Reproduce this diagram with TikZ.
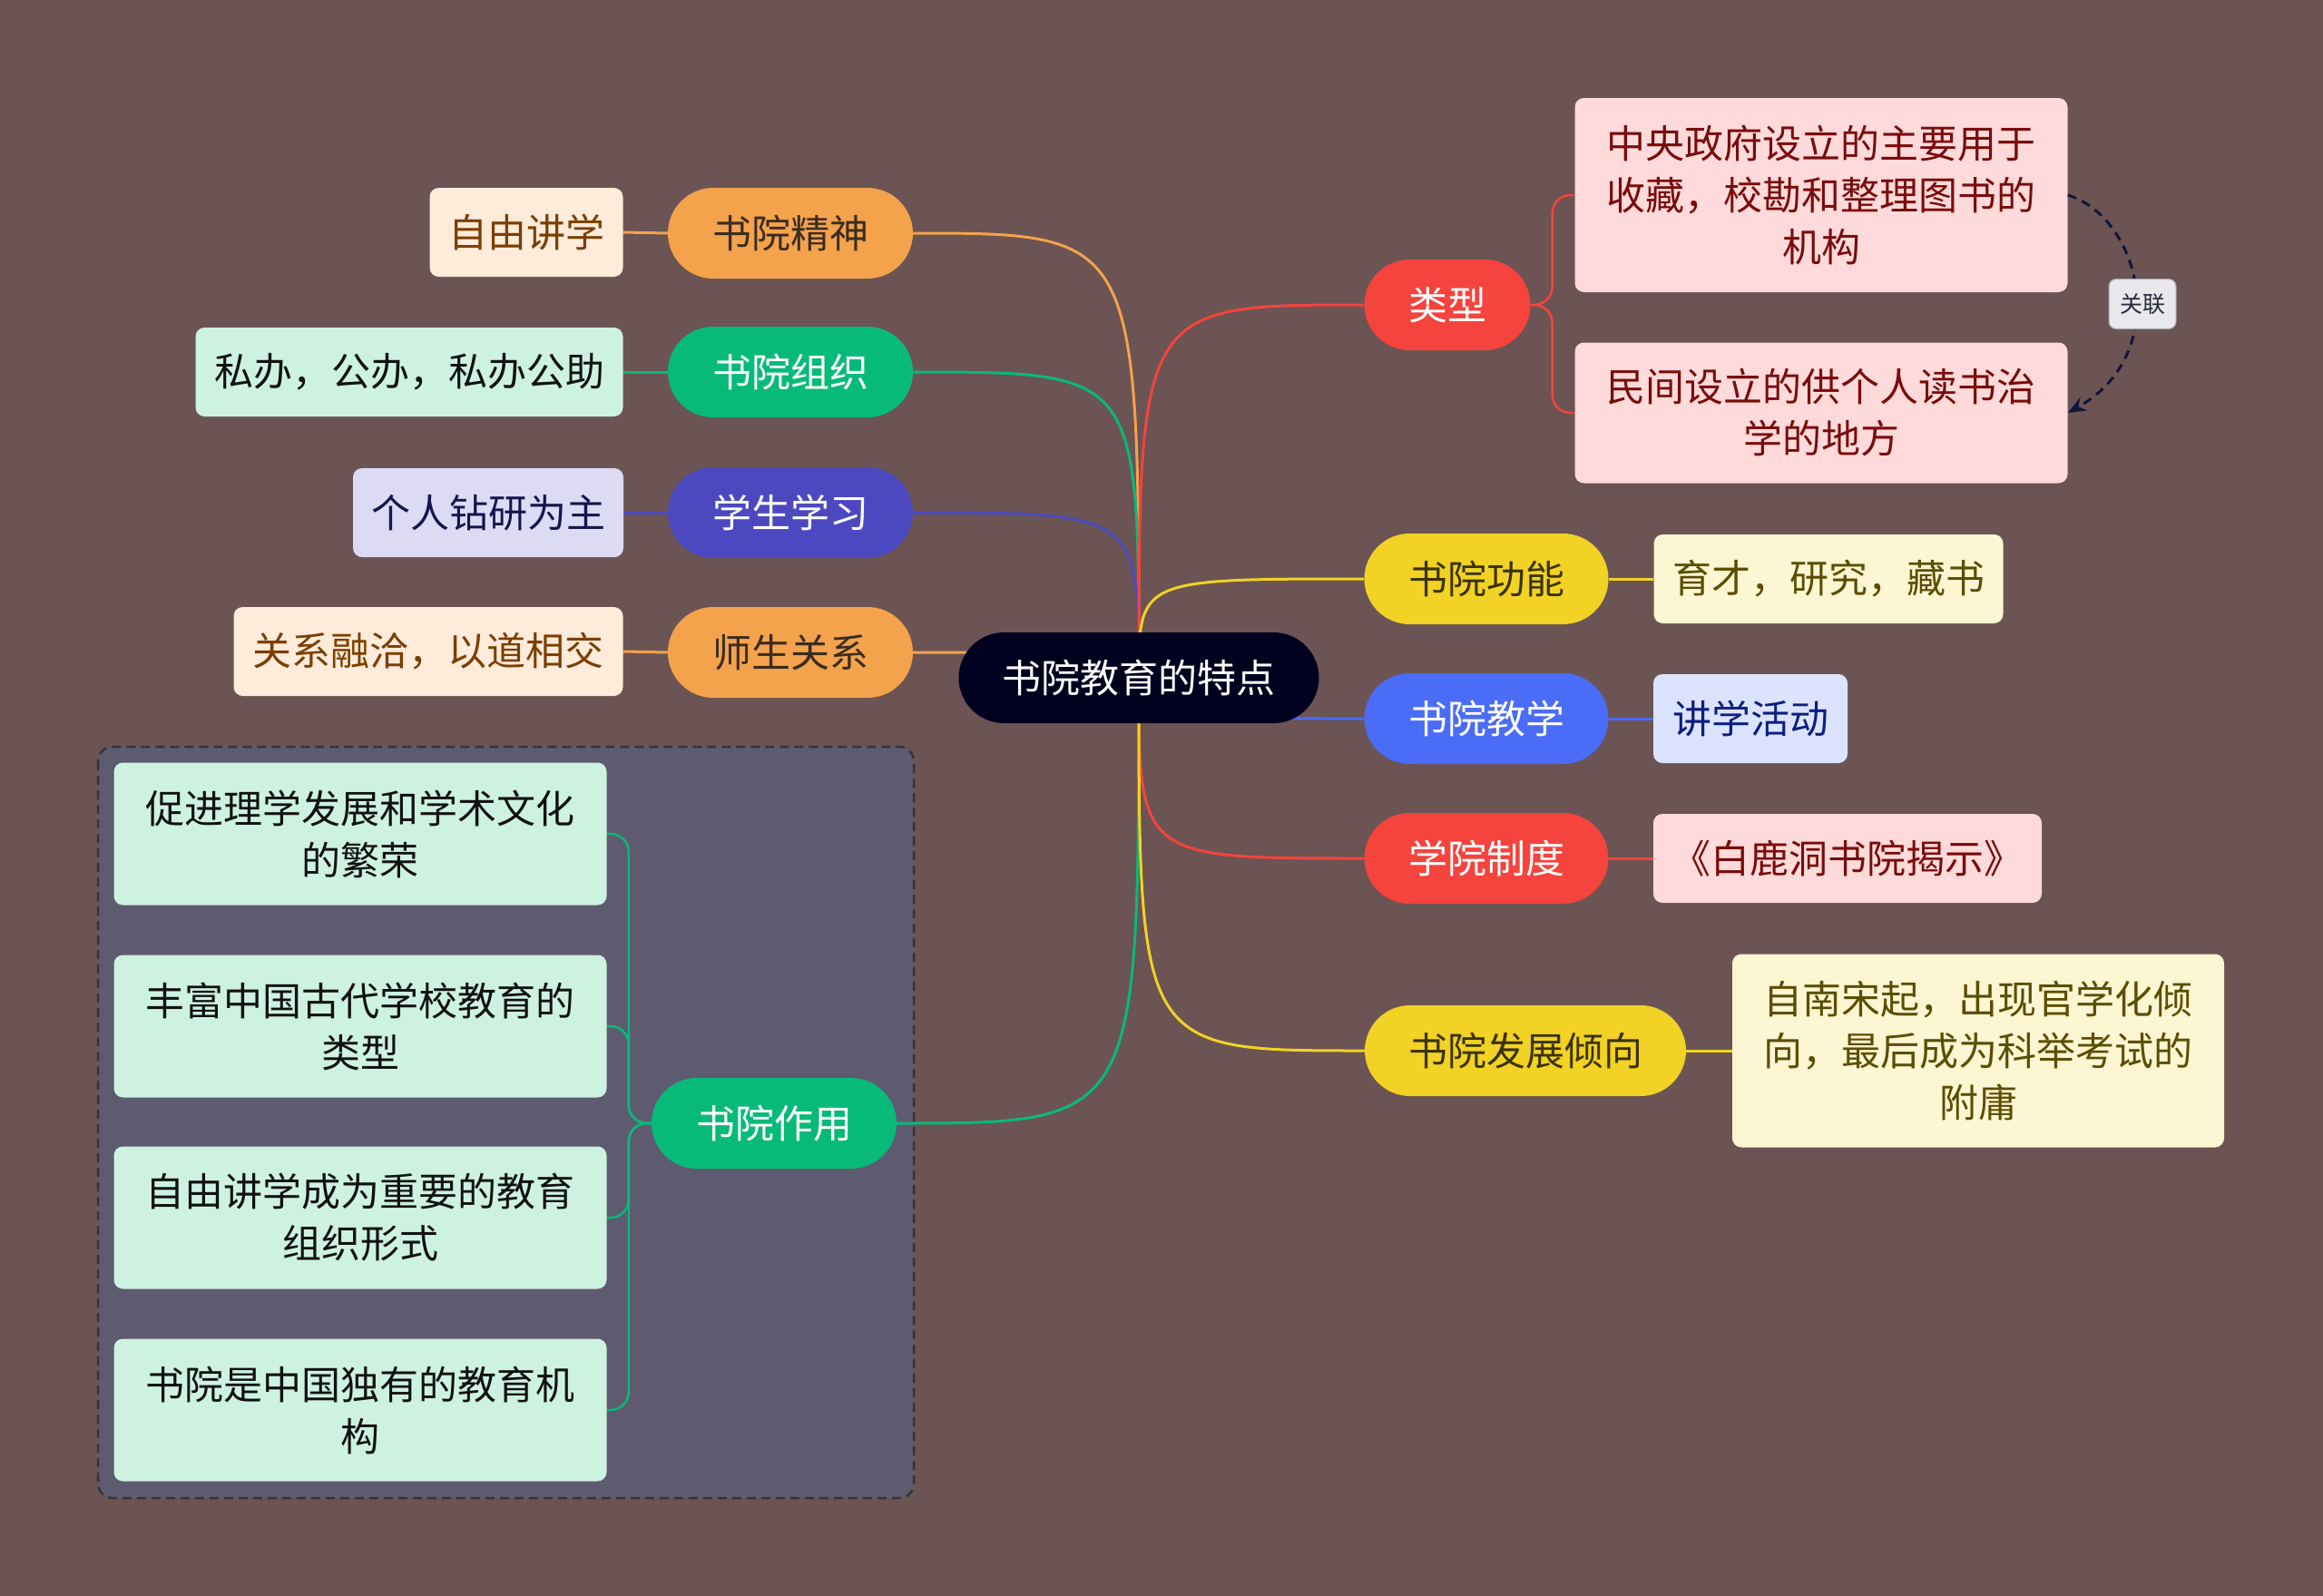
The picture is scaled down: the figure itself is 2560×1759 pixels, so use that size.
\documentclass[tikz,border=0pt]{standalone}
\usepackage{fontspec}
\newfontfamily\cjk{Noto Sans CJK SC}
\usetikzlibrary{arrows.meta,calc}
\pgfdeclarelayer{back}
\pgfdeclarelayer{lines}
\pgfsetlayers{back,lines,main}
\definecolor{bgc}{HTML}{6B5453}
\definecolor{grpfill}{HTML}{5E5A70}
\definecolor{grpline}{HTML}{363438}
\definecolor{cnavy}{HTML}{00001F}
\definecolor{corange}{HTML}{F4A24C}
\definecolor{cgreen}{HTML}{08BA7A}
\definecolor{cpurple}{HTML}{4C49C0}
\definecolor{cred}{HTML}{F5433D}
\definecolor{cyellow}{HTML}{F1D225}
\definecolor{cblue}{HTML}{4A6CF6}
\definecolor{tdark}{HTML}{3A2C20}
\definecolor{tolive}{HTML}{3A3300}
\definecolor{fpeach}{HTML}{FEEBDA}
\definecolor{tpeach}{HTML}{7B3F00}
\definecolor{fmint}{HTML}{CDF2E2}
\definecolor{tmint}{HTML}{111111}
\definecolor{flav}{HTML}{DCDBF3}
\definecolor{tlav}{HTML}{15154F}
\definecolor{fcream}{HTML}{FDF6D3}
\definecolor{tcream}{HTML}{5C4D00}
\definecolor{flblue}{HTML}{DCE3FE}
\definecolor{tlblue}{HTML}{0B1F80}
\definecolor{fpink}{HTML}{FFDADA}
\definecolor{tpink}{HTML}{7A0B0B}
\definecolor{relfill}{HTML}{E8E8ED}
\definecolor{reltext}{HTML}{2A2A40}
\definecolor{arrowc}{HTML}{14143A}
\begin{document}
\begin{tikzpicture}[x=1pt,y=-1pt,
  base/.style={font=\cjk\fontsize{43}{57}\selectfont, inner sep=0pt, align=center},
  mainn/.style={base, rounded corners=50pt, minimum height=100pt},
  leafn/.style={base, rounded corners=10pt, minimum height=98pt},
  boxn/.style={base, rounded corners=10pt},
  link/.style={line width=3pt},
  brk/.style={line width=2.5pt, rounded corners=20pt},
  relarrow/.style={line width=3pt, dash pattern=on 10pt off 7pt, draw=arrowc, -{Stealth[length=20pt,width=16pt]}},
  relnode/.style={font=\cjk\fontsize{25}{30}\selectfont, fill=relfill, draw=black!35, line width=1pt, rounded corners=8pt, minimum width=74pt, minimum height=55pt, inner sep=0pt, text=reltext}
]
\useasboundingbox (0,0) rectangle (2560,1759);
\begin{pgfonlayer}{back}
  \fill[bgc] (0,0) rectangle (2560,1759);
  \draw[grpline, fill=grpfill, dash pattern=on 10pt off 6pt, line width=2.5pt, rounded corners=16pt] (108,823) rectangle (1007,1651);
\end{pgfonlayer}

% center
\node[mainn, fill=cnavy, text=white, minimum width=397pt] (ctr) at (1255,747) {书院教育的特点};

% left main topics
\node[mainn, fill=corange, text=tdark, minimum width=270pt] (jj) at (871,257) {书院精神};
\node[mainn, fill=cgreen, text=white, minimum width=270pt] (zz) at (871,410) {书院组织};
\node[mainn, fill=cpurple, text=white, minimum width=270pt] (xs) at (871,565) {学生学习};
\node[mainn, fill=corange, text=tdark, minimum width=270pt] (ss) at (871,719) {师生关系};
\node[mainn, fill=cgreen, text=white, minimum width=270pt] (zy) at (853,1238) {书院作用};

% left leaves
\node[leafn, fill=fpeach, text=tpeach, minimum width=213pt] (l1) at (580,256) {自由讲学};
\node[leafn, fill=fmint, text=tmint, minimum width=471pt] (l2) at (451,410) {私办，公办，私办公助};
\node[leafn, fill=flav, text=tlav, minimum width=298pt] (l3) at (538,565) {个人钻研为主};
\node[leafn, fill=fpeach, text=tpeach, minimum width=429pt] (l4) at (472,718) {关系融洽，以道相交};

% group boxes
\node[boxn, fill=fmint, text=tmint, minimum width=543pt, minimum height=157pt] (b1) at (397,919) {促进理学发展和学术文化\\的繁荣};
\node[boxn, fill=fmint, text=tmint, minimum width=543pt, minimum height=157pt] (b2) at (397,1131) {丰富中国古代学校教育的\\类型};
\node[boxn, fill=fmint, text=tmint, minimum width=543pt, minimum height=157pt] (b3) at (397,1342) {自由讲学成为重要的教育\\组织形式};
\node[boxn, fill=fmint, text=tmint, minimum width=543pt, minimum height=157pt] (b4) at (397,1554) {书院是中国独有的教育机\\构};

% right main topics
\node[mainn, fill=cred, text=white, minimum width=183pt] (lx) at (1595,336) {类型};
\node[mainn, fill=cyellow, text=tolive, minimum width=269pt] (gn) at (1638,638) {书院功能};
\node[mainn, fill=cblue, text=white, minimum width=269pt] (jx) at (1638,792) {书院教学};
\node[mainn, fill=cred, text=white, minimum width=269pt] (zd) at (1638,946) {学院制度};
\node[mainn, fill=cyellow, text=tolive, minimum width=354pt] (fz) at (1681,1158) {书院发展倾向};

% right leaves
\node[boxn, fill=fpink, text=tpink, minimum width=543pt, minimum height=214pt] (t1) at (2007,215) {中央政府设立的主要用于\\收藏，校勘和整理图书的\\机构};
\node[boxn, fill=fpink, text=tpink, minimum width=543pt, minimum height=155pt] (t2) at (2007,455) {民间设立的供个人读书治\\学的地方};
\node[leafn, fill=fcream, text=tcream, minimum width=385pt] (gnl) at (2015,638) {育才，研究，藏书};
\node[leafn, fill=flblue, text=tlblue, minimum width=214pt] (jxl) at (1929,792) {讲学活动};
\node[leafn, fill=fpink, text=tpink, minimum width=428pt] (zdl) at (2036,946) {《白鹿洞书院揭示》};
\node[boxn, fill=fcream, text=tcream, minimum width=542pt, minimum height=213pt] (fzl) at (2180,1158) {自南宋起，出现官学化倾\\向，最后成为科举考试的\\附庸};

\begin{pgfonlayer}{lines}
  % center to main topics
  \draw[link, corange] (ctr.center) .. controls (ctr.center |- jj.east) .. (jj.east);
  \draw[link, cgreen] (ctr.center) .. controls (ctr.center |- zz.east) .. (zz.east);
  \draw[link, cpurple] (ctr.center) .. controls (ctr.center |- xs.east) .. (xs.east);
  \draw[link, corange] (ctr.center) .. controls (ctr.center |- ss.east) .. (ss.east);
  \draw[link, cgreen] (ctr.center) .. controls (ctr.center |- zy.east) .. (zy.east);
  \draw[link, cred] (ctr.center) .. controls (ctr.center |- lx.west) .. (lx.west);
  \draw[link, cyellow] (ctr.center) .. controls (ctr.center |- gn.west) .. (gn.west);
  \draw[link, cblue] (ctr.center) .. controls (ctr.center |- jx.west) .. (jx.west);
  \draw[link, cred] (ctr.center) .. controls (ctr.center |- zd.west) .. (zd.west);
  \draw[link, cyellow] (ctr.center) .. controls (ctr.center |- fz.west) .. (fz.west);
  % main to leaves
  \draw[link, corange] (jj.west) -- (l1.east);
  \draw[link, cgreen] (zz.west) -- (l2.east);
  \draw[link, cpurple] (xs.west) -- (l3.east);
  \draw[link, corange] (ss.west) -- (l4.east);
  \draw[link, cyellow] (gn.east) -- (gnl.west);
  \draw[link, cblue] (jx.east) -- (jxl.west);
  \draw[link, cred] (zd.east) -- (zdl.west);
  \draw[link, cyellow] (fz.east) -- (fzl.west);
  % brackets
  \draw[brk, cgreen] (zy.west) -- ++(-25,0) |- (b1.east);
  \draw[brk, cgreen] (zy.west) -- ++(-25,0) |- (b2.east);
  \draw[brk, cgreen] (zy.west) -- ++(-25,0) |- (b3.east);
  \draw[brk, cgreen] (zy.west) -- ++(-25,0) |- (b4.east);
  \draw[brk, cred] (lx.east) -- ++(24,0) |- (t1.west);
  \draw[brk, cred] (lx.east) -- ++(24,0) |- (t2.west);
\end{pgfonlayer}

% relation arrow
\draw[relarrow] (t1.east) .. controls (2360,240) and (2395,390) .. (t2.east);
\node[relnode] (rel) at (2361,335) {关联};
\end{tikzpicture}
\end{document}
